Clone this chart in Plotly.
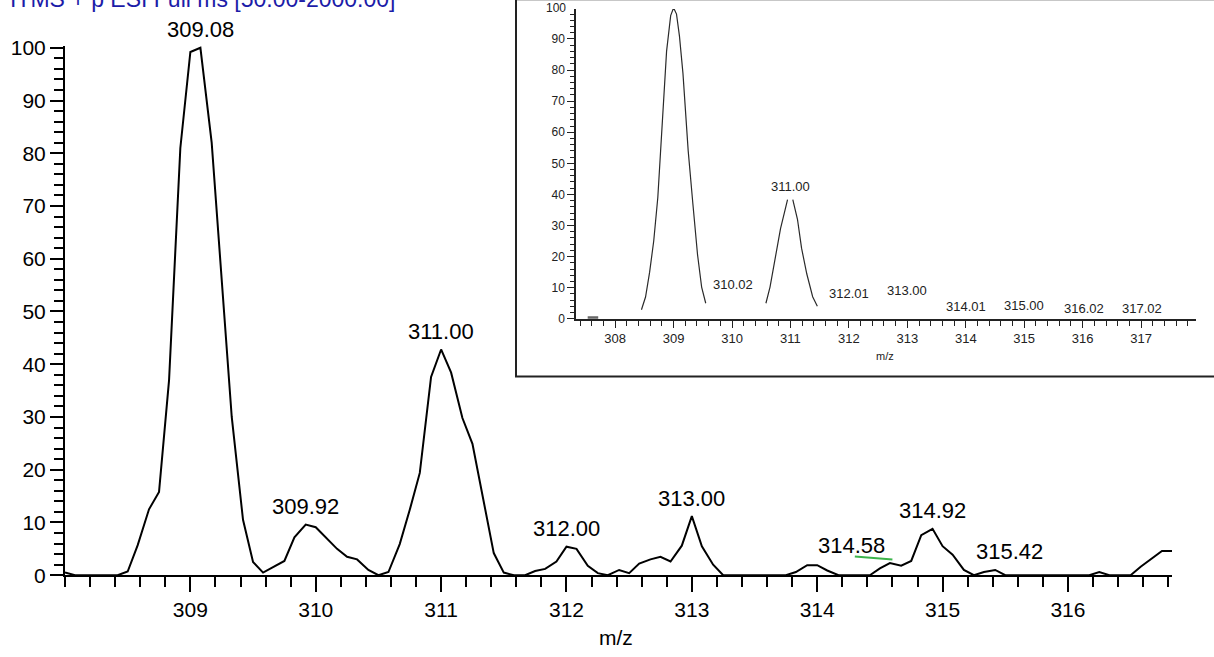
import plotly.graph_objects as go

# ---------------- data ----------------
# Main profile spectrum (m/z, relative abundance %)
mz = [
    308.00, 308.08, 308.17, 308.25, 308.33, 308.42, 308.50, 308.58, 308.67, 308.75, 308.83, 308.92,
    309.00, 309.08, 309.17, 309.25, 309.33, 309.42, 309.50, 309.58, 309.67, 309.75, 309.83, 309.92,
    310.00, 310.08, 310.17, 310.25, 310.33, 310.42, 310.50, 310.58, 310.67, 310.75, 310.83, 310.92,
    311.00, 311.08, 311.17, 311.25, 311.33, 311.42, 311.50, 311.58, 311.67, 311.75, 311.83, 311.92,
    312.00, 312.08, 312.17, 312.25, 312.33, 312.42, 312.50, 312.58, 312.67, 312.75, 312.83, 312.92,
    313.00, 313.08, 313.17, 313.25, 313.33, 313.42, 313.50, 313.58, 313.67, 313.75, 313.83, 313.92,
    314.00, 314.08, 314.17, 314.25, 314.33, 314.42, 314.50, 314.58, 314.67, 314.75, 314.83, 314.92,
    315.00, 315.08, 315.17, 315.25, 315.33, 315.42, 315.50, 315.58, 315.67, 315.75, 315.83, 315.92,
    316.00, 316.08, 316.17, 316.25, 316.33, 316.42, 316.50, 316.58, 316.67, 316.75, 316.83,
]
intensity = [
    0.5, 0.0, 0.0, 0.0, 0.0, 0.0, 0.7, 5.7, 12.5, 15.8, 37.0, 81.0,
    99.2, 100.0, 82.0, 56.0, 30.0, 10.5, 2.5, 0.5, 1.7, 2.7, 7.2, 9.6,
    9.1, 7.2, 5.0, 3.5, 3.0, 1.0, 0.0, 0.6, 5.9, 12.4, 19.4, 37.6,
    42.8, 38.4, 29.8, 24.9, 14.9, 4.2, 0.5, 0.0, 0.0, 0.8, 1.2, 2.6,
    5.4, 5.0, 1.8, 0.4, 0.0, 1.0, 0.4, 2.2, 3.0, 3.5, 2.6, 5.6,
    11.2, 5.5, 2.0, 0.0, 0.0, 0.0, 0.0, 0.0, 0.0, 0.0, 0.6, 1.9,
    1.9, 0.9, 0.0, 0.0, 0.0, 0.0, 1.3, 2.3, 1.8, 2.7, 7.6, 8.8,
    5.5, 3.9, 1.0, 0.0, 0.6, 1.0, 0.0, 0.0, 0.0, 0.0, 0.0, 0.0,
    0.0, 0.0, 0.0, 0.6, 0.0, 0.0, 0.0, 1.6, 3.2, 4.6, 4.6,
]
x_tick_labels = [309, 310, 311, 312, 313, 314, 315, 316]

# Labelled centroids in the main spectrum
peak_labels = [309.08, 309.92, 311.00, 312.00, 313.00, 314.58, 314.92, 315.42]
# horizontal nudge (px) of each label text
label_nudge = [0, 0, 0, 0, 0, -38, 0, 14]

# Green cursor segment under the 314.58 label
cursor_mz = [314.30, 314.60]
cursor_int = [3.55, 3.0]

# Inset: simulated isotope pattern (two profile peaks)
inset_mz_a = [308.45, 308.52, 308.59, 308.66, 308.73, 308.81, 308.88, 308.95, 309.00,
              309.05, 309.10, 309.16, 309.20, 309.25, 309.33, 309.41, 309.48, 309.55]
inset_int_a = [2.9, 7.0, 15.0, 25.0, 39.0, 66.0, 86.0, 97.5, 100.0,
               98.0, 91.0, 79.0, 67.0, 54.0, 37.0, 20.6, 10.2, 5.0]
inset_mz_b1 = [310.58, 310.65, 310.75, 310.83, 310.91, 310.95]
inset_int_b1 = [5.0, 10.2, 20.6, 29.0, 35.2, 38.3]
inset_mz_b2 = [311.04, 311.12, 311.19, 311.28, 311.38, 311.46]
inset_int_b2 = [38.3, 32.0, 22.7, 14.4, 7.1, 4.0]
inset_stub_mz = [307.53, 307.71]
inset_stub_int = [0.3, 0.3]

# Inset centroid labels and the heights their text sits at
inset_label_mz = [310.02, 311.00, 312.01, 313.00, 314.01, 315.00, 316.02, 317.02]
inset_label_height = [11.1, 42.7, 8.2, 9.0, 3.8, 4.4, 3.2, 3.2]

title_text = "ITMS + p ESI Full ms [50.00-2000.00]"

# ---------------- layout helpers ----------------
W, H = 1214, 657
FONT = "Liberation Sans, Arial, Helvetica, sans-serif"


def fx(px):
    return px / W


def fy(py):
    return (H - py) / H


fig = go.Figure()

# main spectrum
fig.add_trace(go.Scatter(
    x=mz, y=intensity, mode="lines",
    line=dict(color="black", width=2),
    xaxis="x", yaxis="y", hoverinfo="skip", showlegend=False,
))

# cursor segment
fig.add_trace(go.Scatter(
    x=cursor_mz, y=cursor_int, mode="lines",
    line=dict(color="#3cb44b", width=2),
    xaxis="x", yaxis="y", hoverinfo="skip", showlegend=False,
))

# inset traces
inset_x = inset_mz_a + [None] + inset_mz_b1 + [None] + inset_mz_b2
inset_y = inset_int_a + [None] + inset_int_b1 + [None] + inset_int_b2
fig.add_trace(go.Scatter(
    x=inset_x, y=inset_y, mode="lines",
    line=dict(color="#2a2a2a", width=1.2),
    xaxis="x2", yaxis="y2", hoverinfo="skip", showlegend=False,
    connectgaps=False,
))
fig.add_trace(go.Scatter(
    x=inset_stub_mz, y=inset_stub_int, mode="lines",
    line=dict(color="#666666", width=3),
    xaxis="x2", yaxis="y2", hoverinfo="skip", showlegend=False,
))

annotations = []

# main peak labels
lookup = dict(zip(mz, intensity))
for m, dx in zip(peak_labels, label_nudge):
    annotations.append(dict(
        x=m, y=lookup[m], xref="x", yref="y",
        text=f"{m:.2f}", showarrow=False,
        xanchor="center", yanchor="middle",
        xshift=dx, yshift=18,
        font=dict(family=FONT, size=22, color="black"),
    ))

# inset labels
for m, h in zip(inset_label_mz, inset_label_height):
    annotations.append(dict(
        x=m, y=h, xref="x2", yref="y2",
        text=f"{m:.2f}", showarrow=False,
        xanchor="center", yanchor="middle",
        font=dict(family=FONT, size=13, color="#222222"),
    ))

# inset "100" tick label (partly above the page)
annotations.append(dict(
    x=fx(568), y=fy(-1.5), xref="paper", yref="paper",
    text="100", showarrow=False, xanchor="right", yanchor="middle",
    font=dict(family=FONT, size=12, color="#222222"),
))

# inset axis title
annotations.append(dict(
    x=fx(885), y=fy(358), xref="paper", yref="paper",
    text="m/z", showarrow=False, xanchor="center", yanchor="middle",
    font=dict(family=FONT, size=11, color="#222222"),
))

# main axis title
annotations.append(dict(
    x=fx(616), y=fy(648), xref="paper", yref="paper",
    text="m/z", showarrow=False, xanchor="center", yanchor="middle",
    font=dict(family=FONT, size=21, color="black"),
))

# scan header, running off the top edge
annotations.append(dict(
    x=fx(8), y=fy(5.5), xref="paper", yref="paper",
    text=title_text, showarrow=False, xanchor="left", yanchor="bottom",
    font=dict(family=FONT, size=23, color="#1c1ca8"),
))

axis_common = dict(
    showgrid=False, zeroline=False, showline=True,
    ticks="outside", tickcolor="black", linecolor="black",
)

fig.update_layout(
    width=W, height=H, autosize=False,
    margin=dict(l=0, r=0, t=0, b=0, pad=0),
    paper_bgcolor="white", plot_bgcolor="rgba(0,0,0,0)",
    showlegend=False,
    xaxis=dict(
        **axis_common,
        domain=[fx(65), fx(1172)], range=[308.0, 316.83], anchor="y",
        tickmode="array", tickvals=x_tick_labels,
        ticktext=[str(v) for v in x_tick_labels],
        ticklen=15, tickwidth=2, linewidth=2,
        tickfont=dict(family=FONT, size=21, color="black"),
        minor=dict(ticks="outside", tick0=309, dtick=0.2, ticklen=10,
                   tickwidth=2, tickcolor="black", showgrid=False),
    ),
    yaxis=dict(
        **axis_common,
        domain=[fy(584), fy(37.8)], range=[0, 100.4], anchor="x",
        tickmode="linear", tick0=0, dtick=10,
        ticklen=13, tickwidth=2, linewidth=2,
        tickfont=dict(family=FONT, size=21, color="black"),
        minor=dict(ticks="outside", tick0=0, dtick=2, ticklen=9,
                   tickwidth=2, tickcolor="black", showgrid=False),
    ),
    xaxis2=dict(
        showgrid=False, zeroline=False, showline=True,
        ticks="outside", tickcolor="#222222", linecolor="#222222",
        domain=[fx(576), fx(1196)], range=[307.33, 317.94], anchor="y2",
        tickmode="linear", tick0=308, dtick=1,
        ticklen=7, tickwidth=1.2, linewidth=1.5,
        tickfont=dict(family=FONT, size=13, color="#222222"),
        minor=dict(ticks="outside", tick0=308, dtick=0.2, ticklen=5,
                   tickwidth=1.2, tickcolor="#222222", showgrid=False),
    ),
    yaxis2=dict(
        showgrid=False, zeroline=False, showline=True,
        ticks="outside", tickcolor="#222222", linecolor="#222222",
        domain=[fy(319.5), 1.0], range=[0, 99.63], anchor="x2",
        tickmode="linear", tick0=0, dtick=10,
        ticklen=7, tickwidth=1.2, linewidth=1.5,
        tickfont=dict(family=FONT, size=12, color="#222222"),
        minor=dict(ticks="outside", tick0=0, dtick=2, ticklen=4,
                   tickwidth=1.2, tickcolor="#222222", showgrid=False),
    ),
    annotations=annotations,
    shapes=[dict(
        type="rect", xref="paper", yref="paper",
        x0=fx(516), x1=fx(1224), y0=fy(379), y1=fy(-10),
        line=dict(color="#222222", width=2), fillcolor="rgba(0,0,0,0)",
        layer="above",
    )],
)

fig.write_html("out.html")
